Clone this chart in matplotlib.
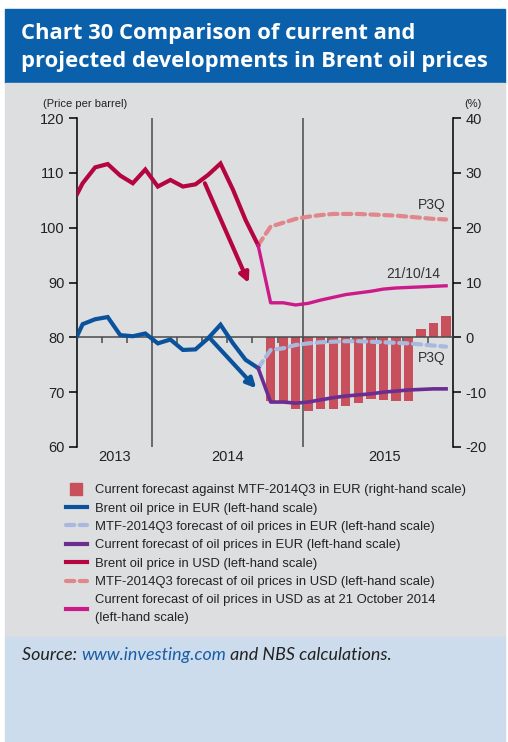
import matplotlib
matplotlib.use('Agg')
import matplotlib.pyplot as plt
from matplotlib.patches import Rectangle
from matplotlib.lines import Line2D

NARROW = ['Liberation Sans Narrow', 'Liberation Sans', 'DejaVu Sans']

# months since July 2013 (0 = start of Jul 2013), monthly points slightly before mid-month
hist_x = [0, 0.45, 1.45, 2.45, 3.45, 4.45, 5.45, 6.45, 7.45, 8.45, 9.45, 10.45, 11.45, 12.45, 13.45, 14.45]
usd_brent = [106.1, 108.1, 111.0, 111.6, 109.5, 108.1, 110.6, 107.5, 108.7, 107.5, 107.9, 109.6, 111.7, 106.9, 101.4, 96.8]
eur_brent = [80.2, 82.4, 83.3, 83.7, 80.4, 80.2, 80.7, 78.9, 79.6, 77.7, 77.8, 79.8, 82.3, 78.9, 75.9, 74.4]

# forecasts Sep 2014 (joint point) .. Dec 2015
fc_x = [14.45] + [m + 0.45 for m in range(15, 30)]
usd_current = [96.8, 86.3, 86.3, 85.9, 86.2, 86.8, 87.3, 87.8, 88.1, 88.4, 88.8, 89.0, 89.1, 89.2, 89.3, 89.4]
usd_mtf = [96.8, 100.2, 100.9, 101.6, 102.0, 102.3, 102.5, 102.5, 102.5, 102.4, 102.3, 102.2, 102.0, 101.8, 101.6, 101.5]
eur_current = [74.4, 68.2, 68.2, 68.0, 68.2, 68.6, 69.0, 69.3, 69.5, 69.7, 70.0, 70.2, 70.4, 70.5, 70.6, 70.6]
eur_mtf = [74.4, 77.7, 78.0, 78.6, 78.9, 79.1, 79.2, 79.3, 79.3, 79.2, 79.1, 79.0, 78.9, 78.7, 78.5, 78.3]

# current forecast against MTF-2014Q3 in EUR (%), Oct 2014 .. Dec 2015
bar_x = [m + 0.45 for m in range(15, 30)]
bar_diff = [-11.7, -11.6, -13.1, -13.4, -13.1, -13.1, -12.6, -12.0, -11.3, -11.4, -11.6, -11.7, 1.5, 2.7, 3.9]

years = ['2013', '2014', '2015']
year_pos = [3, 12, 24.5]

# arrows (start, end) in data coords
usd_arrow = [(10.2, 108.1), (13.7, 89.9)]
eur_arrow = [(10.7, 79.6), (14.3, 70.7)]

c_usd = '#B4053F'
c_usd_cur = '#CC1A8A'
c_usd_mtf = '#E0878B'
c_eur = '#0B529C'
c_eur_cur = '#6B2D8F'
c_eur_mtf = '#A8B9DE'
c_bar = '#C8505C'
c_grid = '#4A4A4A'

W, H = 508, 742
fig = plt.figure(figsize=(W / 100, H / 100), dpi=100)
fig.patch.set_facecolor('white')

def box(x0, y0, x1, y1, color):
    fig.patches.append(Rectangle((x0 / W, 1 - y1 / H), (x1 - x0) / W, (y1 - y0) / H,
                                 transform=fig.transFigure, color=color, zorder=-10))

box(5, 9, 505, 83, '#0A60AA')
box(5, 83, 505, 637, '#DDDEE0')
box(5, 637, 505, 742, '#CCDCEC')

fig.text(21 / W, 1 - 39 / H, 'Chart 30 Comparison of current and', color='white',
         fontsize=15.8, fontweight='bold', family='Open Sans', va='baseline')
fig.text(21 / W, 1 - 67 / H, 'projected developments in Brent oil prices', color='white',
         fontsize=15.8, fontweight='bold', family='Open Sans', va='baseline')

ax = fig.add_axes([77 / W, 1 - 447 / H, 376 / W, 329 / H])
ax2 = ax.twinx()
ax.set_zorder(ax2.get_zorder() + 1)
ax.patch.set_visible(False)
ax2.patch.set_visible(False)

ax2.bar(bar_x, bar_diff, width=0.74, color=c_bar, zorder=1)
ax2.set_ylim(-20, 40)
ax2.set_yticks(range(-20, 41, 10))
ax2.set_yticklabels([str(v) for v in range(-20, 41, 10)])

ax.set_xlim(0, 30)
ax.set_ylim(60, 120)
ax.set_yticks(range(60, 121, 10))

ax.axvline(6, color=c_grid, lw=1.1, zorder=1)
ax.axvline(18, color=c_grid, lw=1.1, zorder=1)

ax.plot(fc_x, eur_mtf, color=c_eur_mtf, lw=3, ls=(0, (2.0, 1.3)), dash_capstyle='round', zorder=3)
ax.plot(fc_x, usd_mtf, color=c_usd_mtf, lw=3, ls=(0, (2.0, 1.3)), dash_capstyle='round', zorder=3)
ax.plot(hist_x, eur_brent, color=c_eur, lw=3, solid_joinstyle='miter', zorder=4)
ax.plot(hist_x, usd_brent, color=c_usd, lw=3, solid_joinstyle='miter', zorder=4)
ax.plot(fc_x, eur_current, color=c_eur_cur, lw=2.6, zorder=4)
ax.plot(fc_x, usd_current, color=c_usd_cur, lw=2.4, zorder=4)

for (p0, p1), col in [(usd_arrow, c_usd), (eur_arrow, c_eur)]:
    ax.annotate('', xy=p1, xytext=p0,
                arrowprops=dict(arrowstyle='-|>', color=col, lw=3, mutation_scale=14,
                                shrinkA=0, shrinkB=0), zorder=5)

ax.text(28.3, 104.2, 'P3Q', fontsize=10, family=NARROW, color='#333333', ha='center', va='center')
ax.text(28.3, 76.2, 'P3Q', fontsize=10, family=NARROW, color='#333333', ha='center', va='center')
ax.text(26.8, 91.5, '21/10/14', fontsize=10, family=NARROW, color='#333333', ha='center', va='center')

for lab, pos in zip(years, year_pos):
    ax.text(pos, 58.2, lab, fontsize=10.5, family=NARROW, color='#222222', ha='center', va='center')

# spines / ticks
for a in (ax, ax2):
    a.spines['top'].set_visible(False)
ax.spines['right'].set_visible(False)
ax2.spines['left'].set_visible(False)
ax2.spines['bottom'].set_visible(False)
ax.spines['bottom'].set_position(('data', 80))
ax.spines['bottom'].set_color(c_grid)
ax.spines['bottom'].set_linewidth(1.1)
ax.spines['left'].set_linewidth(1.1)
ax2.spines['right'].set_linewidth(1.1)
ax.set_xticks(range(2, 30, 2))
ax.set_xticklabels([])
ax.tick_params(axis='x', direction='out', length=4, width=1.1, color=c_grid)
ax.tick_params(axis='y', direction='out', length=6, width=1.1, pad=3, labelsize=10.5, labelcolor='#222222')
ax2.tick_params(axis='y', direction='out', length=6, width=1.1, pad=3, labelsize=10.5, labelcolor='#222222')
for lab in ax.get_yticklabels() + ax2.get_yticklabels():
    lab.set_family(NARROW)

fig.text(85 / W, 1 - 104 / H, '(Price per barrel)', fontsize=8, family=NARROW, color='#222222',
         ha='center', va='center')
fig.text(473 / W, 1 - 104 / H, '(%)', fontsize=8, family=NARROW, color='#222222',
         ha='center', va='center')

handles = [
    Line2D([], [], color=c_bar, marker='s', ls='none', markersize=8),
    Line2D([], [], color=c_eur, lw=3),
    Line2D([], [], color=c_eur_mtf, lw=3, ls=(0, (2.0, 1.3)), dash_capstyle='round'),
    Line2D([], [], color=c_eur_cur, lw=3),
    Line2D([], [], color=c_usd, lw=3),
    Line2D([], [], color=c_usd_mtf, lw=3, ls=(0, (2.0, 1.3)), dash_capstyle='round'),
    Line2D([], [], color=c_usd_cur, lw=3),
]
labels = [
    'Current forecast against MTF-2014Q3 in EUR (right-hand scale)',
    'Brent oil price in EUR (left-hand scale)',
    'MTF-2014Q3 forecast of oil prices in EUR (left-hand scale)',
    'Current forecast of oil prices in EUR (left-hand scale)',
    'Brent oil price in USD (left-hand scale)',
    'MTF-2014Q3 forecast of oil prices in USD (left-hand scale)',
    'Current forecast of oil prices in USD as at 21 October 2014\n(left-hand scale)',
]
leg = fig.legend(handles, labels, loc='upper left', bbox_to_anchor=(66 / W, 1 - 484 / H),
                 frameon=False, prop={'family': NARROW, 'size': 9.4}, handlelength=1.6,
                 handletextpad=0.6, labelspacing=0.48, borderaxespad=0, borderpad=0)
for t in leg.get_texts():
    t.set_color('#222222')
    t.set_linespacing(1.6)

# source line, pieces chained
fig.canvas.draw()
r = fig.canvas.get_renderer()
x = 22 / W
for piece, col in [('Source: ', '#222222'), ('www.investing.com', '#1A5DA6'), (' and NBS calculations.', '#222222')]:
    t = fig.text(x, 1 - 660 / H, piece, fontsize=12.9, style='italic', family='Lato', color=col, va='baseline')
    bb = t.get_window_extent(renderer=r)
    x += bb.width / W

fig.savefig('out.png', dpi=100)
